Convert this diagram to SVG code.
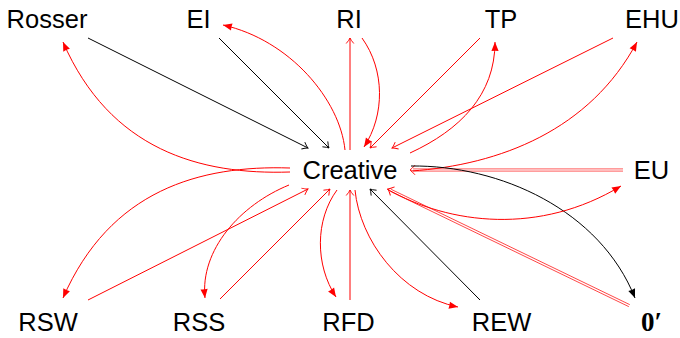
<svg xmlns="http://www.w3.org/2000/svg" width="680" height="338" viewBox="0 0 680 338">
<style>
.lbl{font-family:"Liberation Sans",Arial,sans-serif;font-size:25.5px;fill:#000;text-anchor:middle}
.zero{font-family:"Liberation Serif","Times New Roman",serif;font-size:27px;font-weight:bold;fill:#000}
.k{fill:none;stroke:#000;stroke-width:1}
.r{fill:none;stroke:#ff0000;stroke-width:1}
.rd{fill:none;stroke:#ff0000;stroke-width:0.65}
.rh{fill:none;stroke:#ff0000;stroke-width:0.9}
</style>
<defs>
<marker id="toK" markerUnits="userSpaceOnUse" viewBox="-7 -5 8 10" refX="0" refY="0" markerWidth="8" markerHeight="10" orient="auto" overflow="visible"><path d="M-5.5,-3.8 Q-2,-0.8 0,0 Q-2,0.8 -5.5,3.8" fill="none" stroke="#000" stroke-width="0.9"/></marker>
<marker id="toR" markerUnits="userSpaceOnUse" viewBox="-7 -5 8 10" refX="0" refY="0" markerWidth="8" markerHeight="10" orient="auto" overflow="visible"><path d="M-5.5,-3.8 Q-2,-0.8 0,0 Q-2,0.8 -5.5,3.8" fill="none" stroke="#ff0000" stroke-width="0.9"/></marker>
<marker id="laR" markerUnits="userSpaceOnUse" viewBox="-10 -5 11 10" refX="0" refY="0" markerWidth="11" markerHeight="10" orient="auto" overflow="visible"><path d="M0,0 L-9,-3.6 Q-8.3,0 -9,3.6 Z" fill="#ff0000"/></marker>
<marker id="laK" markerUnits="userSpaceOnUse" viewBox="-10 -5 11 10" refX="0" refY="0" markerWidth="11" markerHeight="10" orient="auto" overflow="visible"><path d="M0,0 L-9,-3.6 Q-8.3,0 -9,3.6 Z" fill="#000"/></marker>
</defs>
<g id="connectors">
<path class="k" d="M88,38 L308,148" marker-end="url(#toK)"/>
<path class="k" d="M219,38 L329,148" marker-end="url(#toK)"/>
<path class="r" d="M290,172 C200,175 110,150 63,42" marker-end="url(#laR)"/>
<path class="r" d="M345,150 C340,100 290,40 223,25" marker-end="url(#laR)"/>
<path class="r" d="M350,150 L350,38" marker-end="url(#toR)"/>
<path class="r" d="M362,38 C385,70 385,115 364,147" marker-end="url(#laR)"/>
<path class="r" d="M480,38 L370,148" marker-end="url(#toR)"/>
<path class="r" d="M410,153 C460,130 495,95 495,42" marker-end="url(#laR)"/>
<path class="r" d="M613,38 L392,148" marker-end="url(#toR)"/>
<path class="r" d="M411,171 C500,165 590,130 637,42" marker-end="url(#laR)"/>
<g transform="translate(410,170)">
<path class="rd" d="M3,-1.1 L213,-1.1 M3,1.1 L213,1.1"/>
<path class="rh" d="M5,-4.8 Q2,-1.5 0,0 Q2,1.5 5,4.8"/>
</g>
<path class="k" d="M411,166 C500,165 600,210 635,298" marker-end="url(#laK)"/>
<g transform="translate(388,189) rotate(25.8)">
<path class="rd" d="M3,-1.1 L268,-1.1 M3,1.1 L268,1.1"/>
<path class="rh" d="M5,-4.8 Q2,-1.5 0,0 Q2,1.5 5,4.8"/>
</g>
<path class="r" d="M387,189 C450,225 540,235 621,186" marker-end="url(#laR)"/>
<path class="k" d="M480,300 L370,189" marker-end="url(#toK)"/>
<path class="r" d="M355,190 C360,240 400,295 458,307" marker-end="url(#laR)"/>
<path class="r" d="M350,300 L350,190" marker-end="url(#toR)"/>
<path class="r" d="M337,190 C315,220 315,265 336,297" marker-end="url(#laR)"/>
<path class="r" d="M220,299 L330,189" marker-end="url(#toR)"/>
<path class="r" d="M289,185 C240,205 200,250 205,298" marker-end="url(#laR)"/>
<path class="r" d="M88,300 L308,189" marker-end="url(#toR)"/>
<path class="r" d="M290,168 C200,165 110,190 63,298" marker-end="url(#laR)"/>
</g>
<g id="node-rosser"><text class="lbl" x="47" y="27.5">Rosser</text></g>
<g id="node-ei"><text class="lbl" x="198.5" y="27.5">EI</text></g>
<g id="node-ri"><text class="lbl" x="349" y="27.5">RI</text></g>
<g id="node-tp"><text class="lbl" x="501" y="27.5">TP</text></g>
<g id="node-ehu"><text class="lbl" x="652" y="27.5">EHU</text></g>
<g id="node-creative"><text class="lbl" x="350" y="179">Creative</text></g>
<g id="node-eu"><text class="lbl" x="651.5" y="179">EU</text></g>
<g id="node-rsw"><text class="lbl" x="48" y="330.5">RSW</text></g>
<g id="node-rss"><text class="lbl" x="199" y="330.5">RSS</text></g>
<g id="node-rfd"><text class="lbl" x="348.5" y="330.5">RFD</text></g>
<g id="node-rew"><text class="lbl" x="501.5" y="330.5">REW</text></g>
<g id="node-zero"><text class="zero" x="641" y="331">0′</text></g>
</svg>
